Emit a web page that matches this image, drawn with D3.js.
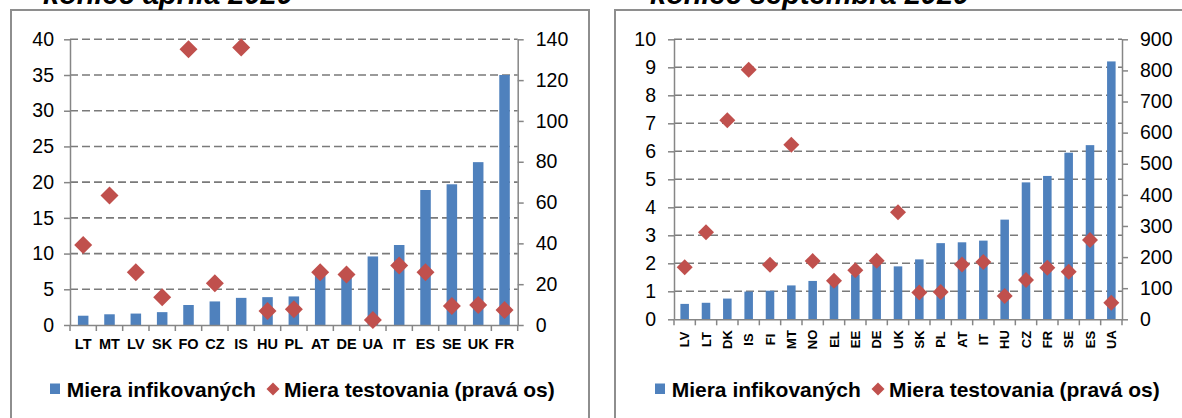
<!DOCTYPE html>
<html>
<head>
<meta charset="utf-8">
<script src="https://cdn.jsdelivr.net/npm/d3@7"></script>
<style>
body { margin: 0; background: #fff; }
text { font-family: "Liberation Sans", Arial, sans-serif; fill: #000; }
</style>
</head>
<body>
<script>
var width = 1182;
var height = 418;

// koniec apríla 2020
var catsApr = ['LT', 'MT', 'LV', 'SK', 'FO', 'CZ', 'IS', 'HU', 'PL', 'AT', 'DE', 'UA', 'IT', 'ES', 'SE', 'UK', 'FR'];
var infApr = [1.3, 1.5, 1.6, 1.8, 2.8, 3.3, 3.8, 3.9, 4.0, 6.9, 6.8, 9.6, 11.2, 18.9, 19.7, 22.8, 35.0];
var testApr = [39.2, 63.4, 25.8, 13.6, 135.1, 20.4, 136.0, 6.9, 7.7, 25.8, 24.8, 2.4, 29.1, 25.8, 9.3, 9.8, 7.3];
var leftTicksApr = [0, 5, 10, 15, 20, 25, 30, 35, 40];
var rightTicksApr = [0, 20, 40, 60, 80, 100, 120, 140];

// koniec septembra 2020
var catsSep = ['LV', 'LT', 'DK', 'IS', 'FI', 'MT', 'NO', 'EL', 'EE', 'DE', 'UK', 'SK', 'PL', 'AT', 'IT', 'HU', 'CZ', 'FR', 'SE', 'ES', 'UA'];
var infSep = [0.55, 0.59, 0.74, 0.99, 1.02, 1.21, 1.37, 1.3, 1.6, 1.95, 1.89, 2.14, 2.72, 2.75, 2.81, 3.56, 4.89, 5.12, 5.95, 6.22, 9.21];
var testSep = [167, 280, 640, 802, 175, 561, 187, 124, 158, 188, 344, 86, 88, 176, 184, 75, 126, 166, 153, 255, 53];
var leftTicksSep = [0, 1, 2, 3, 4, 5, 6, 7, 8, 9, 10];
var rightTicksSep = [0, 100, 200, 300, 400, 500, 600, 700, 800, 900];

var seriesNames = ['Miera infikovaných', 'Miera testovania (pravá os)'];

var blue = '#4f81bd';
var red = '#c0504d';
var axisGray = '#868686';

var svg = d3.select('body')
    .append('svg')
    .attr('width', width)
    .attr('height', height);

function diamond(diag) {
    return d3.symbol().type(d3.symbolSquare).size(diag * diag / 2)();
}

function styleAxis(sel, fontSize) {
    sel.selectAll('path.domain').attr('stroke', axisGray).attr('stroke-width', 1.5);
    sel.selectAll('.tick line').attr('stroke', axisGray).attr('stroke-width', 1.5);
    sel.selectAll('.tick text').attr('font-size', fontSize).attr('fill', '#000');
    sel.attr('font-family', null);
}

function panel(cfg) {
    var g = svg.append('g');

    g.append('rect')
        .attr('x', cfg.boxX0).attr('y', 10)
        .attr('width', cfg.boxX1 - cfg.boxX0).attr('height', 500)
        .attr('fill', 'none').attr('stroke', '#8e8e8e').attr('stroke-width', 2);

    // title is cut by the top edge, as in the original
    g.append('text')
        .attr('x', cfg.titleX).attr('y', 4)
        .attr('font-size', 29).attr('font-weight', 'bold').attr('font-style', 'italic')
        .text(cfg.title);

    var x = d3.scaleBand()
        .domain(cfg.cats)
        .range([cfg.x0, cfg.x1])
        .paddingInner(0.6)
        .paddingOuter(0.3);
    var yL = d3.scaleLinear().domain([0, d3.max(cfg.leftTicks)]).range([cfg.y0, cfg.y1]);
    var yR = d3.scaleLinear().domain([0, d3.max(cfg.rightTicks)]).range([cfg.y0, cfg.y1]);

    // gridlines
    g.selectAll('line.grid')
        .data(cfg.leftTicks.slice(1))
        .enter()
        .append('line')
        .attr('class', 'grid')
        .attr('x1', cfg.x0).attr('x2', cfg.x1)
        .attr('y1', function(d) { return yL(d); })
        .attr('y2', function(d) { return yL(d); })
        .attr('stroke', '#7a7a7a').attr('stroke-width', 1.6)
        .attr('stroke-dasharray', '8,4');

    // bars
    g.selectAll('rect.bar')
        .data(cfg.inf)
        .enter()
        .append('rect')
        .attr('class', 'bar')
        .attr('x', function(d, i) { return x(cfg.cats[i]); })
        .attr('width', x.bandwidth())
        .attr('y', function(d) { return yL(d); })
        .attr('height', function(d) { return cfg.y0 - yL(d); })
        .attr('fill', blue);

    // left axis
    var left = g.append('g')
        .attr('transform', 'translate(' + cfg.x0 + ',0)')
        .call(d3.axisLeft(yL).tickValues(cfg.leftTicks).tickSize(6).tickSizeOuter(0).tickPadding(cfg.padL));
    styleAxis(left, 19.5);

    // right axis
    var right = g.append('g')
        .attr('transform', 'translate(' + cfg.x1 + ',0)')
        .call(d3.axisRight(yR).tickValues(cfg.rightTicks).tickSize(6).tickSizeOuter(0).tickPadding(cfg.padR));
    styleAxis(right, 19.5);

    // bottom axis with ticks between categories
    var bottom = g.append('g')
        .attr('transform', 'translate(0,' + cfg.y0 + ')')
        .call(d3.axisBottom(x).tickSize(0).tickSizeOuter(0).tickPadding(14));
    styleAxis(bottom, cfg.catFont);
    bottom.selectAll('.tick text').attr('font-weight', 'bold');
    if (cfg.rotate) {
        bottom.selectAll('.tick text')
            .attr('transform', 'rotate(-90)')
            .attr('x', -20.2).attr('y', 0).attr('dy', '0.35em')
            .attr('text-anchor', 'middle');
    }
    bottom.selectAll('line.sep')
        .data(d3.range(cfg.cats.length + 1))
        .enter()
        .append('line')
        .attr('class', 'sep')
        .attr('x1', function(i) { return cfg.x0 + i * x.step(); })
        .attr('x2', function(i) { return cfg.x0 + i * x.step(); })
        .attr('y1', 0).attr('y2', 6)
        .attr('stroke', axisGray).attr('stroke-width', 1.5);

    // diamonds
    g.selectAll('path.pt')
        .data(cfg.test)
        .enter()
        .append('path')
        .attr('class', 'pt')
        .attr('d', diamond(cfg.diag))
        .attr('transform', function(d, i) {
            return 'translate(' + (x(cfg.cats[i]) + x.bandwidth() / 2) + ',' + yR(d) + ') rotate(45)';
        })
        .attr('fill', red);

    // legend
    var lg = g.append('g').attr('transform', 'translate(' + cfg.legendX + ',0)');
    lg.append('rect')
        .attr('x', 0).attr('y', 383.5).attr('width', 10).attr('height', 10.5)
        .attr('fill', blue);
    lg.append('text')
        .attr('x', 16.7).attr('y', 396.7)
        .attr('font-size', 21).attr('font-weight', 'bold')
        .text(seriesNames[0]);
    lg.append('path')
        .attr('d', diamond(13))
        .attr('transform', 'translate(223,389) rotate(45)')
        .attr('fill', red);
    lg.append('text')
        .attr('x', 234).attr('y', 396.7)
        .attr('font-size', 21).attr('font-weight', 'bold')
        .text(seriesNames[1]);
}

panel({
    title: 'koniec apríla 2020', titleX: 43,
    boxX0: 11, boxX1: 589,
    cats: catsApr, inf: infApr, test: testApr,
    leftTicks: leftTicksApr, rightTicks: rightTicksApr,
    x0: 70, x1: 517.7, y0: 325, y1: 39.3,
    padL: 10, padR: 12, catFont: 14.5, rotate: false, diag: 18,
    legendX: 50
});

panel({
    title: 'koniec septembra 2020', titleX: 650,
    boxX0: 615, boxX1: 1200,
    cats: catsSep, inf: infSep, test: testSep,
    leftTicks: leftTicksSep, rightTicks: rightTicksSep,
    x0: 674, x1: 1122, y0: 319.3, y1: 39.3,
    padL: 12, padR: 12, catFont: 13, rotate: true, diag: 16,
    legendX: 655
});
</script>
</body>
</html>
